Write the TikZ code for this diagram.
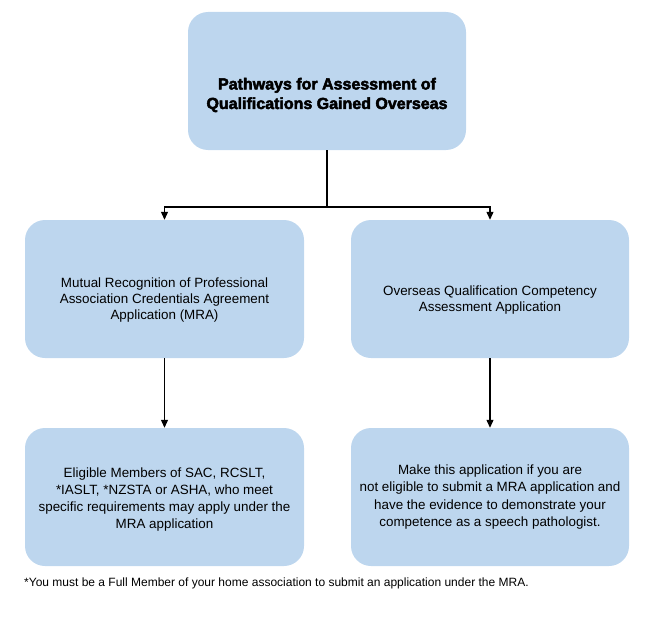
\documentclass[tikz,border=0pt]{standalone}
\usepackage{fontspec}
\setmainfont{Liberation Sans}
\newfontfamily\heavyfont[FakeBold=3]{Liberation Sans Bold}
\usepackage{tikz}
\usetikzlibrary{arrows.meta, positioning}
\definecolor{boxblue}{RGB}{189,214,238}
\tikzset{
  box/.style={rectangle, rounded corners=20pt, fill=boxblue, draw=none,
    minimum width=279pt, minimum height=138pt, inner sep=0pt},
  boxtext/.style={align=center, font=\fontsize{13.4}{16}\selectfont, inner sep=0pt},
  flow/.style={line width=1.1pt, black}
}

\begin{document}
\begin{tikzpicture}[x=1pt, y=1pt, >={Triangle[length=8pt,width=7pt]}]
    \useasboundingbox (0,0) rectangle (656,-618);

    % boxes
    \node[box, minimum width=278pt] (top) at (327,-81) {};
    \node[box] (mra) at (164.5,-289) {};
    \node[box, minimum width=278pt] (oqc) at (490,-289) {};
    \node[box] (mra-b) at (164.5,-497) {};
    \node[box, minimum width=278pt] (oqc-b) at (490,-497) {};

    % texts
    \node[boxtext, font=\fontsize{16}{19.5}\heavyfont]
      (top-t) at ([yshift=-14pt]top.center)
      {Pathways for Assessment of\\Qualifications Gained Overseas};
    \node[boxtext] (mra-t) at ([yshift=-11pt]mra.center)
      {Mutual Recognition of Professional\\Association Credentials Agreement\\Application (MRA)};
    \node[boxtext] (oqc-t) at ([yshift=-11pt]oqc.center)
      {Overseas Qualification Competency\\Assessment Application};
    \node[boxtext, font=\fontsize{13.4}{16.7}\selectfont] (mra-b-t) at ([yshift=-2.5pt]mra-b.center)
      {Eligible Members of SAC, RCSLT,\\*IASLT, *NZSTA or ASHA, who meet\\specific requirements may apply under the\\MRA application};
    \node[boxtext, font=\fontsize{13.4}{17.5}\selectfont] (oqc-b-t) at ([yshift=0pt]oqc-b.center)
      {Make this application if you are\\not eligible to submit a MRA application and\\have the evidence to demonstrate your\\competence as a speech pathologist.};

    % footnote
    \node[anchor=west, inner sep=0pt, font=\fontsize{12}{14}\selectfont]
      (note) at (24,-583)
      {*You must be a Full Member of your home association to submit an application under the MRA.};

    % connectors
    \coordinate (split) at (327,-207);
    \draw[flow] (top) -- (split);
    \draw[flow, ->] (split) -| (mra);
    \draw[flow, ->] (split) -| (oqc);
    \draw[flow, ->] (mra) -- (mra-b);
    \draw[flow, ->] (oqc) -- (oqc-b);
\end{tikzpicture}
\end{document}
